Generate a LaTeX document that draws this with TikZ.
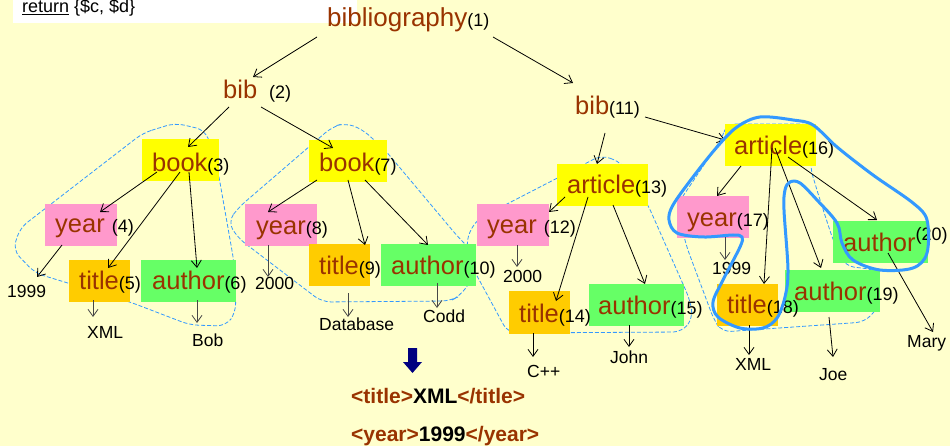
\documentclass[tikz,border=0pt]{standalone}
\usepackage{fontspec}
\setmainfont{Liberation Sans}
\usetikzlibrary{arrows.meta}
\definecolor{bg}{RGB}{255,255,204}
\definecolor{tag}{RGB}{153,51,0}
\definecolor{ybox}{RGB}{255,255,0}
\definecolor{pbox}{RGB}{255,153,204}
\definecolor{obox}{RGB}{255,204,0}
\definecolor{gbox}{RGB}{102,255,102}
\definecolor{hl}{RGB}{51,153,255}
\definecolor{navyblue}{RGB}{0,0,128}
\newcommand\elfont{\fontsize{25.5}{30}\selectfont}
\newcommand\numfont{\fontsize{18}{21}\selectfont}
\newcommand\leaffont{\fontsize{17.5}{21}\selectfont}
\begin{document}
\begin{tikzpicture}[x=1pt,y=-1pt,
  box/.style={rectangle,inner sep=0pt,outer sep=0pt,minimum height=42pt},
  yb/.style={box,fill=ybox},
  pb/.style={box,fill=pbox,minimum width=72pt},
  ob/.style={box,fill=obox,minimum width=61pt},
  gb/.style={box,fill=gbox,minimum width=95pt},
  elem/.style={anchor=base west,inner sep=0pt,text=tag,font=\elfont},
  leaf/.style={anchor=base west,inner sep=0pt,font=\leaffont},
  edge/.style={-{Straight Barb[length=7pt,width=10pt]},line width=0.8pt},
  leafedge/.style={edge,draw=black!72},
  group/.style={draw=hl,dash pattern=on 4pt off 2pt,line width=0.8pt,rounded corners=9pt},
  hilite/.style={draw=hl,line width=3pt}]
\useasboundingbox (0,0) rectangle (950,446);
\fill[bg] (0,0) rectangle (950,446);
% query fragment on its white strip
\fill[white] (13,0) rectangle (357,23);
\node[anchor=base west,inner sep=0pt,font=\fontsize{18}{20}\selectfont] (ret) at (22,13) {\underline{return} \{\$c, \$d\}};

% dashed outlines of the matched subtrees
\draw[group] (143,133) -- (175,123) -- (205,130) -- (216,160) -- (234,262) -- (236,312) -- (226,326) -- (190,325) -- (130,302) -- (35,273) -- (13,250) -- (20,228) -- cycle;
\draw[group] (332,127) -- (345,123) -- (362,129) -- (385,150) -- (458,237) -- (473,252) -- (475,275) -- (460,296) -- (450,301) -- (322,302) -- (238,238) -- (228,222) -- (238,208) -- cycle;
\draw[group] (602,155) -- (622,163) -- (648,205) -- (690,300) -- (693,318) -- (682,332) -- (508,333) -- (470,263) -- (466,240) -- (476,220) -- cycle;
\draw[group] (727,124) -- (810,124) -- (815,130) -- (810,167) -- (820,200) -- (833,240) -- (845,266) -- (877,270) -- (880,305) -- (865,322) -- (722,332) -- (714,320) -- (686,245) -- (677,205) -- (722,138) -- cycle;

% element boxes
\node[yb,minimum width=77pt] (b3) at (180.5,160.5) {};
\node[yb,minimum width=78pt] (b7) at (348,161) {};
\node[pb] (b4) at (81,225) {};
\node[ob] (b5) at (99.5,281) {};
\node[gb] (b6) at (188.5,281) {};
\node[pb] (b8) at (281,225) {};
\node[ob] (b9) at (339.5,265) {};
\node[gb] (b10) at (428.5,265) {};
\node[yb,minimum width=91pt] (b13) at (602.5,185) {};
\node[pb] (b12) at (513,225) {};
\node[ob] (b14) at (539.5,312.5) {};
\node[gb] (b15) at (636,305) {};
\node[yb,minimum width=91pt] (b16) at (770.5,145) {};
\node[pb] (b17) at (713,217) {};
\node[ob] (b18) at (747.5,305) {};
\node[gb] (b19) at (832.5,291) {};
\node[gb] (b20) at (880.5,242.5) {};

% element names
\node[elem,font=\fontsize{26}{30}\selectfont] (t1) at (327,27) {bibliography{\numfont\color{black}(1)}};
\node[elem] (t2) at (223,99) {bib\hspace*{12pt}{\numfont\color{black}(2)}};
\node[elem] (t11) at (575,115) {bib{\numfont\color{black}(11)}};
\node[elem] (t3) at (152,172) {book{\numfont\color{black}(3)}};
\node[elem] (t7) at (319,172) {book{\numfont\color{black}(7)}};
\node[elem] (t4) at (55,233) {year {\numfont\color{black}(4)}};
\node[elem] (t5) at (79,290) {title{\numfont\color{black}(5)}};
\node[elem] (t6) at (152,290) {author{\numfont\color{black}(6)}};
\node[elem] (t8) at (256,235) {year{\numfont\color{black}(8)}};
\node[elem] (t9) at (319,275) {title{\numfont\color{black}(9)}};
\node[elem] (t10) at (391,275) {author{\numfont\color{black}(10)}};
\node[elem] (t13) at (567,194) {article{\numfont\color{black}(13)}};
\node[elem] (t12) at (487,234) {year {\numfont\color{black}(12)}};
\node[elem] (t14) at (519,322) {title{\numfont\color{black}(14)}};
\node[elem] (t15) at (598,314) {author{\numfont\color{black}(15)}};
\node[elem] (t16) at (734,155) {article{\numfont\color{black}(16)}};
\node[elem] (t17) at (687,227) {year{\numfont\color{black}(17)}};
\node[elem] (t18) at (727,313) {title{\numfont\color{black}(18)}};
\node[elem] (t19) at (794,300) {author{\numfont\color{black}(19)}};
\node[elem] (t20) at (843,252) {author\raisebox{11pt}{\numfont\color{black}(20)}};

% text values
\node[leaf] (l4) at (7,298) {1999};
\node[leaf] (l5) at (87,338) {XML};
\node[leaf] (l6) at (192,346) {Bob};
\node[leaf] (l8) at (255,290) {2000};
\node[leaf] (l9) at (319,330) {Database};
\node[leaf] (l10) at (423,322) {Codd};
\node[leaf] (l12) at (503,283) {2000};
\node[leaf] (l14) at (527,377) {C++};
\node[leaf] (l15) at (610,363) {John};
\node[leaf] (l17) at (712,275) {1999};
\node[leaf] (l18) at (735,370) {XML};
\node[leaf] (l19) at (819,380) {Joe};
\node[leaf] (l20) at (907,347) {Mary};

% tree edges
\draw[edge] ([shift={(-10,10)}]t1.base west) -- ([shift={(30,-22)}]t2.base west);
\draw[edge] ([shift={(166,10)}]t1.base west) -- ([shift={(-2,-32)}]t11.base west);
\draw[edge] ([shift={(6,8)}]t2.base west) -- ([shift={(7.5,-13.5)}]b3.center);
\draw[edge] ([shift={(38,8)}]t2.base west) -- ([shift={(-15,-13)}]b7.center);
\draw[edge] ([shift={(-23.5,11.5)}]b3.center) -- ([shift={(19,-13)}]b4.center);
\draw[edge] ([shift={(-0.5,11.5)}]b3.center) -- ([shift={(8.5,-13)}]b5.center);
\draw[edge] ([shift={(8.5,11.5)}]b3.center) -- ([shift={(8.5,-13)}]b6.center);
\draw[edge] ([shift={(-19,20)}]b4.center) -- ([shift={(30,-21)}]l4.base west);
\draw[leafedge] ([shift={(-6.5,19)}]b5.center) -- ([shift={(6,-21)}]l5.base west);
\draw[leafedge] ([shift={(8.5,19)}]b6.center) -- ([shift={(5,-23)}]l6.base west);
\draw[edge] ([shift={(-31,19)}]b7.center) -- ([shift={(-13,-13)}]b8.center);
\draw[edge] ([shift={(0,19)}]b7.center) -- ([shift={(25.5,-20)}]b9.center);
\draw[edge] ([shift={(17,19)}]b7.center) -- ([shift={(-0.5,-20)}]b10.center);
\draw[leafedge] ([shift={(-13,20)}]b8.center) -- ([shift={(13,-13)}]l8.base west);
\draw[leafedge] ([shift={(8.5,28)}]b9.center) -- ([shift={(29,-13)}]l9.base west);
\draw[leafedge] ([shift={(8.5,18)}]b10.center) -- ([shift={(14,-14)}]l10.base west);
\draw[edge] ([shift={(30,18)}]t11.base west) -- ([shift={(-5.5,-21)}]b13.center);
\draw[edge] ([shift={(70,2)}]t11.base west) -- ([shift={(-45.5,-5)}]b16.center);
\draw[edge] ([shift={(-37.5,12)}]b13.center) -- ([shift={(36,-13)}]b12.center);
\draw[edge] ([shift={(-14.5,12)}]b13.center) -- ([shift={(16.5,-11.5)}]b14.center);
\draw[edge] ([shift={(10.5,20)}]b13.center) -- ([shift={(9,-21)}]b15.center);
\draw[leafedge] ([shift={(4,20)}]b12.center) -- ([shift={(14,-16)}]l12.base west);
\draw[edge] ([shift={(-6.5,20.5)}]b14.center) -- ([shift={(6,-20)}]l14.base west);
\draw[edge] ([shift={(-7,20)}]b15.center) -- ([shift={(19,-16)}]l15.base west);
\draw[edge] ([shift={(-29.5,21)}]b16.center) -- ([shift={(4,-21)}]b17.center);
\draw[edge] ([shift={(1.5,3)}]b16.center) -- ([shift={(16.5,-21)}]b18.center);
\draw[edge] ([shift={(4.5,3)}]b16.center) -- ([shift={(-11.5,-23)}]b19.center);
\draw[edge] ([shift={(17.5,12)}]b16.center) -- ([shift={(-3.5,-22.5)}]b20.center);
\draw[leafedge] ([shift={(12,20)}]b17.center) -- ([shift={(13,-15)}]l17.base west);
\draw[edge] ([shift={(1.5,20)}]b18.center) -- ([shift={(14,-15)}]l18.base west);
\draw[edge] ([shift={(-3.5,26)}]b19.center) -- ([shift={(14,-23)}]l19.base west);
\draw[edge] ([shift={(7.5,10.5)}]b20.center) -- ([shift={(26,-15)}]l20.base west);

% hand-drawn selection around the chosen article
\draw[hilite] plot[smooth cycle,tension=0.55] coordinates {
  (760,117) (793,120) (813,125) (837,147) (873,175) (913,203) (927,220)
  (927,253) (913,268) (880,270) (853,260) (842,243) (837,223) (817,200)
  (800,183) (790,182) (785,190) (784,210) (788,270) (785,297) (777,318)
  (763,328) (740,328) (718,317) (713,302) (723,280) (740,247) (742,237)
  (733,235) (703,237) (677,233) (669,220) (673,205) (693,177) (717,147)
  (737,127)};

% result
\fill[navyblue] (408,348) -- (417,348) -- (417,362) -- (422,362) -- (412.5,373) -- (403,362) -- (408,362) -- cycle;
\node[anchor=base west,inner sep=0pt,font=\fontsize{21}{25}\selectfont\bfseries] (r1) at (351,403) {\textcolor{tag}{<title>}XML\textcolor{tag}{</title>}};
\node[anchor=base west,inner sep=0pt,font=\fontsize{21}{25}\selectfont\bfseries] (r2) at (351,441) {\textcolor{tag}{<year>}1999\textcolor{tag}{</year>}};
\end{tikzpicture}
\end{document}
